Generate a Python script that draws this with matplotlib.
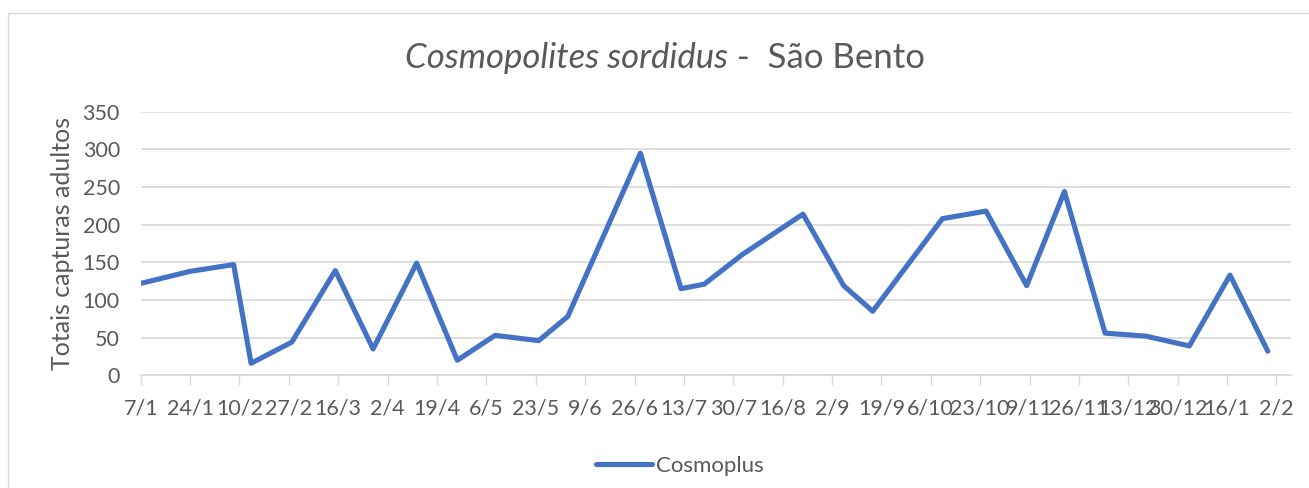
import datetime as dt
import matplotlib
matplotlib.use('Agg')
import matplotlib.pyplot as plt
from matplotlib.patches import Rectangle

#Data (capture dates and totals)
dates = ['2018-01-07', '2018-01-24', '2018-02-08', '2018-02-14', '2018-02-28',
         '2018-03-15', '2018-03-28', '2018-04-12', '2018-04-26', '2018-05-09',
         '2018-05-24', '2018-06-03', '2018-06-28', '2018-07-12', '2018-07-20',
         '2018-08-02', '2018-08-23', '2018-09-06', '2018-09-16', '2018-10-10',
         '2018-10-25', '2018-11-08', '2018-11-21', '2018-12-05', '2018-12-19',
         '2019-01-03', '2019-01-17', '2019-01-30']
cosmoplus = [122, 138, 147, 16, 44, 139, 35, 149, 20, 53, 46, 78, 295, 115, 121,
             160, 214, 119, 85, 208, 218, 119, 244, 56, 52, 39, 133, 32]

tick_labels = ['7/1', '24/1', '10/2', '27/2', '16/3', '2/4', '19/4', '6/5', '23/5',
               '9/6', '26/6', '13/7', '30/7', '16/8', '2/9', '19/9', '6/10', '23/10',
               '9/11', '26/11', '13/12', '30/12', '16/1', '2/2']
y_ticks = [0, 50, 100, 150, 200, 250, 300, 350]

font = 'Lato'
grey = '#595959'
blue = '#4472C4'

x = [dt.datetime.strptime(d, '%Y-%m-%d') for d in dates]
start = x[0]
tick_pos = [start + dt.timedelta(days=17*i) for i in range(len(tick_labels))]

fig = plt.figure(figsize=(13.09, 4.88), dpi=100)
fig.patches.append(Rectangle((8/1309, -0.1), 1.2, 1 - 13/488 + 0.1, transform=fig.transFigure,
                             fill=False, edgecolor='#D9D9D9', linewidth=1))

ax = fig.add_axes([140.7/1309, 1 - 375.3/488, (1291 - 140.7)/1309, (375.3 - 111.7)/488])
ax.plot(x, cosmoplus, color=blue, linewidth=3.7, solid_joinstyle='round',
        solid_capstyle='round', label='Cosmoplus', zorder=3)

ax.set_xlim(start, tick_pos[-1] + dt.timedelta(days=5))
ax.set_ylim(0, 350)
ax.set_yticks(y_ticks)
ax.set_yticklabels([str(v) for v in y_ticks], fontsize=15.5, color=grey, family=font)
ax.set_xticks(tick_pos)
ax.set_xticklabels(tick_labels, fontsize=15.5, color=grey, family=font)
ax.tick_params(axis='y', length=0, pad=15)
ax.tick_params(axis='x', length=7, width=1, color='#D9D9D9', direction='out', pad=10)
ax.grid(axis='y', color='#D9D9D9', linewidth=1.2)
ax.set_axisbelow(True)
for s in ['top', 'right', 'left']:
    ax.spines[s].set_visible(False)
ax.spines['bottom'].set_color('#D9D9D9')
ax.spines['bottom'].set_linewidth(1.2)
ax.set_ylabel('Totais capturas adultos', fontsize=18, color=grey, family=font, labelpad=6)

#Title: italic species name + regular location, centred together
t1 = fig.text(0.5, 1 - 58/488, 'Cosmopolites sordidus', fontsize=25, style='italic',
              color=grey, family=font, ha='right', va='center')
t2 = fig.text(0.5, 1 - 58/488, ' -  São Bento', fontsize=25, color=grey, family=font,
              ha='left', va='center')
fig.canvas.draw()
r = fig.canvas.get_renderer()
w1 = t1.get_window_extent(r).width
w2 = t2.get_window_extent(r).width
cx = 665 - (w1 + w2)/2 + w1
t1.set_x(cx/1309)
t2.set_x(cx/1309)

fig.legend(loc='center', bbox_to_anchor=(680/1309, 1 - 466/488), frameon=False,
           prop={'family': font, 'size': 16}, labelcolor=grey, handlelength=2.5,
           handletextpad=0.2)

fig.savefig('out.png', dpi=100)
